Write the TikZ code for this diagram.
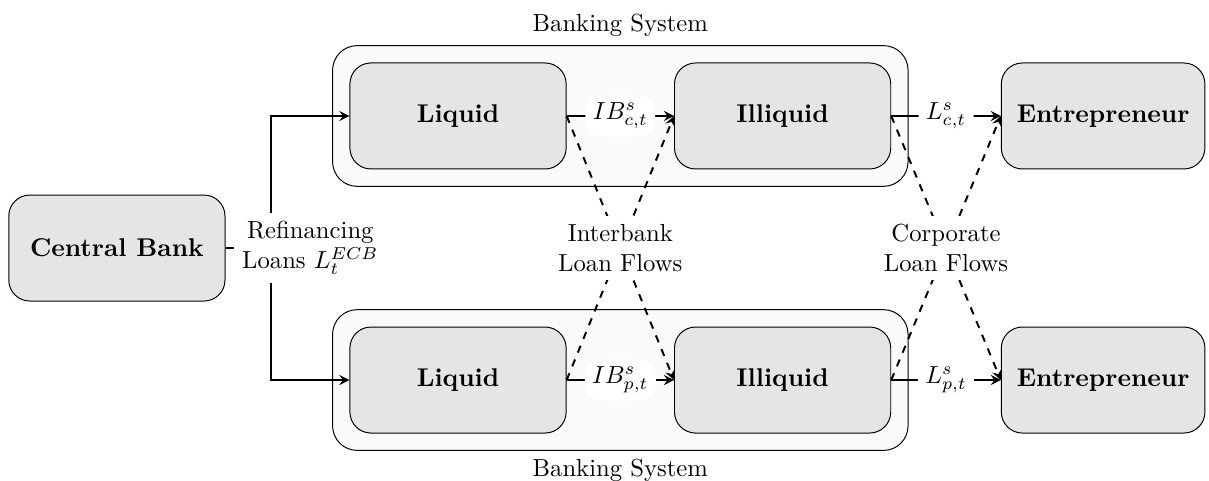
\documentclass[tikz,border=0pt]{standalone}
\usepackage{amsmath}
\usetikzlibrary{calc,fit,backgrounds,arrows.meta}

\tikzset{
  bankbox/.style={draw, fill=black!10, rounded corners=0.3cm, minimum width=3.08cm,
    minimum height=1.51cm, font=\fontsize{10.4}{12}\selectfont\bfseries},
  sysbox/.style={draw, fill=black!2, rounded corners=0.35cm, inner sep=0.24cm},
  flowlabel/.style={fill=white, align=center},
  ratelabel/.style={fill=white, rounded corners=7pt, inner sep=3pt}
}

\begin{document}
\begin{tikzpicture}[>=stealth]
    \useasboundingbox (0,0) rectangle (17.22,-6.85);

    % Central bank
    \node[bankbox] (cb) at (1.665,-3.533) {Central Bank};

    % Banking system, upper row
    \node[bankbox] (liqc) at (6.524,-1.652) {Liquid};
    \node[bankbox] (illc) at (11.147,-1.652) {Illiquid};
    \node[bankbox, minimum width=2.9cm] (entc) at (15.712,-1.652) {Entrepreneur};

    % Banking system, lower row
    \node[bankbox] (liqp) at (6.524,-5.413) {Liquid};
    \node[bankbox] (illp) at (11.147,-5.413) {Illiquid};
    \node[bankbox, minimum width=2.9cm] (entp) at (15.712,-5.413) {Entrepreneur};

    % Frames round the two banking systems
    \begin{scope}[on background layer]
        \node[sysbox, fit=(liqc)(illc), label={above:Banking System}] (sysc) {};
        \node[sysbox, fit=(liqp)(illp), label={below:Banking System}] (sysp) {};
    \end{scope}

    % Refinancing loans from the central bank
    \coordinate (split) at (3.86,-3.533);
    \draw[->, thick] (cb.east) -- (split) |- (liqc.west);
    \draw[->, thick] (split) |- (liqp.west);
    \node[flowlabel] (refi) at (4.42,-3.533) {Refinancing\\Loans $L_t^{ECB}$};

    % Interbank loans
    \draw[->, thick] (liqc.east) -- node[ratelabel] (ibc) {$IB^s_{c,t}$} (illc.west);
    \draw[->, thick] (liqp.east) -- node[ratelabel] (ibp) {$IB^s_{p,t}$} (illp.west);
    \draw[->, thick, dashed] (liqc.east) -- (illp.west);
    \draw[->, thick, dashed] (liqp.east) -- (illc.west);
    \node[flowlabel] (ibflow) at ($(liqc.east)!0.5!(illp.west)$) {Interbank\\Loan Flows};

    % Corporate loans
    \draw[->, thick] (illc.east) -- node[ratelabel] (lc) {$L^s_{c,t}$} (entc.west);
    \draw[->, thick] (illp.east) -- node[ratelabel] (lp) {$L^s_{p,t}$} (entp.west);
    \draw[->, thick, dashed] (illc.east) -- (entp.west);
    \draw[->, thick, dashed] (illp.east) -- (entc.west);
    \node[flowlabel] (corpflow) at ($(illc.east)!0.5!(entp.west)$) {Corporate\\Loan Flows};
\end{tikzpicture}
\end{document}
